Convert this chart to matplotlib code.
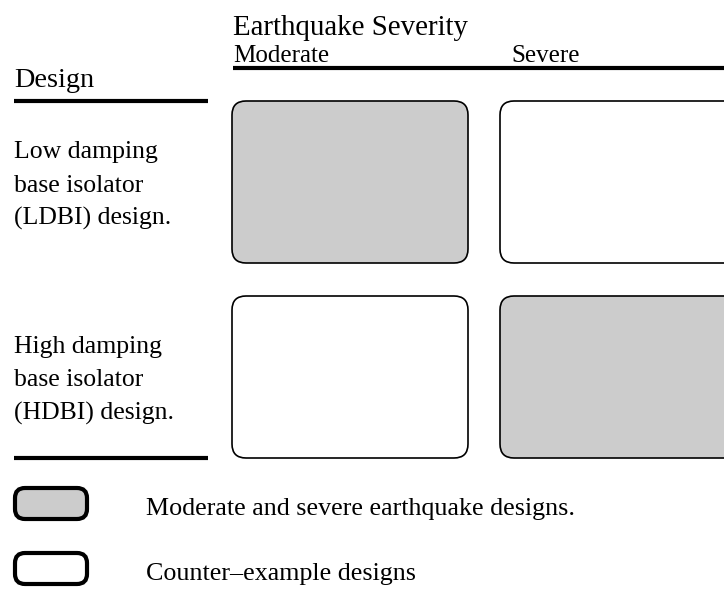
import matplotlib.pyplot as plt
from matplotlib.patches import FancyBboxPatch

plt.rcParams['font.family'] = ['Liberation Serif', 'DejaVu Serif']

# data
severity = ['Moderate', 'Severe']
designs = ['Low damping\nbase isolator\n(LDBI) design.',
           'High damping\nbase isolator\n(HDBI) design.']
shaded = [[True, False],
          [False, True]]
legend_labels = ['Moderate and severe earthquake designs.',
                 'Counter\u2013example designs']
legend_shaded = [True, False]

GRAY = '#cccccc'

fig = plt.figure(figsize=(7.24, 5.89), dpi=100)
ax = fig.add_axes([0, 0, 1, 1])
ax.set_xlim(0, 724)
ax.set_ylim(589, 0)
ax.axis('off')

# layout (pixels)
col_x = [232, 500]
col_w = 236
row_y = [101, 296]
row_h = 162

# headers
ax.text(233, 35, 'Earthquake Severity', fontsize=20.8, va='baseline')
for j, s in enumerate(severity):
    ax.text(col_x[j] + 1 + 10 * j, 62, s, fontsize=18, va='baseline')
ax.plot([233, 724], [68, 68], color='black', lw=3, solid_capstyle='butt')
ax.text(14, 87, 'Design', fontsize=20.3, va='baseline')
ax.plot([14, 208], [101, 101], color='black', lw=3, solid_capstyle='butt')
ax.plot([14, 208], [458, 458], color='black', lw=3, solid_capstyle='butt')

# grid of boxes
for i, label in enumerate(designs):
    for k, line in enumerate(label.split('\n')):
        ax.text(14, row_y[i] + 57 + 33.5 * k, line, fontsize=18.5, va='baseline')
    for j in range(len(severity)):
        w = col_w if j == 0 else col_w + 40
        box = FancyBboxPatch((col_x[j], row_y[i]), w, row_h,
                             boxstyle='round,pad=0,rounding_size=14',
                             fc=GRAY if shaded[i][j] else 'white',
                             ec='black', lw=1.2)
        ax.add_patch(box)

# legend
leg_y = [488, 553]
for y, lab, sh in zip(leg_y, legend_labels, legend_shaded):
    box = FancyBboxPatch((15, y), 72, 31,
                         boxstyle='round,pad=0,rounding_size=10',
                         fc=GRAY if sh else 'white', ec='black', lw=3)
    ax.add_patch(box)
    ax.text(146, y + 27, lab, fontsize=18.7, va='baseline')

fig.savefig('out.png', dpi=100)
